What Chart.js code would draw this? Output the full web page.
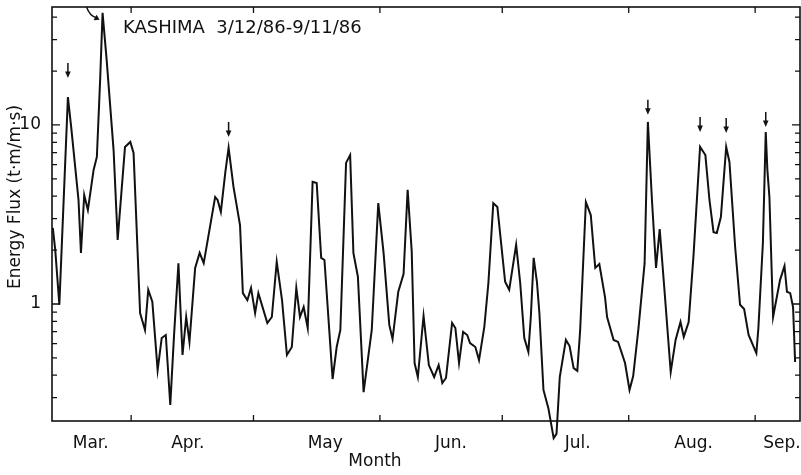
<!DOCTYPE html>
<html>
<head>
<meta charset="utf-8">
<title>KASHIMA energy flux</title>
<script src="https://cdn.jsdelivr.net/npm/chart.js@4.4.1/dist/chart.umd.min.js"></script>
<style>
  body { margin: 0; background: #fff; }
  #wrap { width: 801px; height: 475px; }
</style>
</head>
<body>
<div id="wrap"><canvas id="fluxChart" width="801" height="475"></canvas></div>
<script>
// days counted from 1 March 1986 (Mar 12 = 11, Sep 11 = 194)
const days = [
  11.8, 12.4, 13.4, 15.5, 16.3, 18.1, 18.7, 19.5, 20.4, 21.8,
  22.6, 23.4, 24.0, 25.0, 26.7, 27.7, 29.5, 30.8, 31.6, 33.2,
  34.4, 35.2, 36.2, 37.5, 38.5, 39.5, 40.6, 41.5, 42.6, 43.6,
  44.5, 45.3, 46.7, 47.8, 48.8, 51.6, 52.2, 53.0, 54.1, 54.9,
  56.1, 57.7, 58.4, 59.5, 60.4, 61.4, 62.2, 64.4, 65.5, 66.7,
  68.0, 69.2, 70.4, 71.5, 72.4, 73.3, 74.3, 75.5, 76.5, 77.6,
  78.4, 80.4, 81.4, 82.3, 83.7, 84.7, 85.5, 86.6, 88.0, 90.0,
  91.6, 92.9, 94.3, 95.1, 96.5, 97.8, 98.8, 99.8, 100.5, 101.3,
  102.7, 104.0, 105.3, 106.4, 107.3, 108.2, 109.7, 110.5, 111.4, 112.4,
  113.4, 114.1, 115.4, 116.3, 117.6, 118.6, 119.8, 120.8, 122.7, 123.7,
  125.4, 126.4, 127.4, 128.4, 129.0, 129.7, 130.5, 131.1, 132.1, 133.3,
  134.6, 135.3, 136.1, 137.6, 138.5, 139.5, 140.4, 141.1, 142.5, 143.7,
  144.8, 145.8, 147.2, 147.7, 149.3, 150.4, 152.1, 153.2, 154.1, 155.4,
  156.9, 157.7, 158.7, 159.7, 160.6, 161.8, 163.3, 164.5, 165.7, 166.5,
  167.7, 168.9, 170.5, 171.8, 172.8, 173.8, 174.6, 175.6, 176.9, 177.7,
  179.1, 180.3, 181.3, 182.4, 184.3, 184.8, 185.9, 186.6, 187.0, 187.5,
  188.4, 190.1, 191.2, 191.8, 192.6, 193.3, 193.8
];
const flux = [
  2.66, 2.00, 0.99, 14.3, 9.75, 3.81, 1.93, 4.06, 3.35, 5.61,
  6.63, 17.8, 42.3, 23.1, 7.24, 2.28, 7.54, 8.04, 6.98, 0.89,
  0.716, 1.20, 1.03, 0.427, 0.646, 0.671, 0.273, 0.655, 1.69, 0.519,
  0.846, 0.614, 1.59, 1.93, 1.69, 3.96, 3.81, 3.27, 5.46, 7.45,
  4.51, 2.76, 1.15, 1.05, 1.23, 0.89, 1.15, 0.783, 0.846, 1.72,
  1.05, 0.519, 0.575, 1.23, 0.846, 0.962, 0.734, 4.81, 4.74, 1.81,
  1.76, 0.381, 0.575, 0.716, 6.14, 6.79, 1.93, 1.42, 0.322, 0.716,
  3.66, 1.93, 0.764, 0.637, 1.17, 1.47, 4.34, 1.96, 0.468, 0.391,
  0.857, 0.456, 0.391, 0.456, 0.362, 0.386, 0.783, 0.734, 0.468, 0.698,
  0.671, 0.605, 0.575, 0.486, 0.745, 1.31, 3.66, 3.48, 1.33, 1.20,
  2.14, 1.31, 0.646, 0.540, 0.846, 1.81, 1.33, 0.89, 0.331, 0.262,
  0.178, 0.188, 0.391, 0.630, 0.582, 0.438, 0.423, 0.716, 3.71, 3.14,
  1.59, 1.67, 1.09, 0.846, 0.630, 0.614, 0.468, 0.331, 0.396, 0.734,
  1.69, 10.4, 3.81, 1.59, 2.62, 1.17, 0.417, 0.630, 0.793, 0.655,
  0.793, 1.88, 7.54, 6.79, 3.81, 2.52, 2.49, 3.06, 7.54, 6.21,
  2.08, 0.99, 0.938, 0.671, 0.532, 0.734, 2.19, 9.14, 5.61, 3.96,
  0.846, 1.36, 1.63, 1.17, 1.15, 0.962, 0.474
];

const monthNames = ['Mar.', 'Apr.', 'May', 'Jun.', 'Jul.', 'Aug.', 'Sep.'];
const monthLabelDays = [21.1, 44.9, 78.6, 109.4, 140.5, 168.9, 190.6];
const monthStartDays = [31, 61, 92, 122, 153, 184];

const yTickValues = [0.3, 0.4, 0.5, 0.6, 0.7, 0.8, 0.9, 1, 2, 3, 4, 5, 6, 7, 8, 9, 10, 20, 30, 40];
const yLabelled = [1, 10];

// peaks marked with a small arrow (day, flux at arrow tip)
const arrowDays = [15.5, 54.9, 157.7, 170.5, 176.9, 186.6];
const arrowTipFlux = [18.3, 8.57, 11.4, 9.14, 9.02, 9.75];
const bigPeakDay = 24.0;

const xMin = 11.6, xMax = 195.0;
const yMin = 0.222, yMax = 45.6;

const FONT = '"DejaVu Sans", sans-serif';
const INK = '#111';

function downArrow(c, x, tipY) {
    c.beginPath();
    c.moveTo(x, tipY - 15);
    c.lineTo(x, tipY - 4);
    c.stroke();
    c.beginPath();
    c.moveTo(x - 2.8, tipY - 6.5);
    c.lineTo(x + 2.8, tipY - 6.5);
    c.lineTo(x, tipY);
    c.closePath();
    c.fill();
}

const framePlugin = {
    id: 'frame',
    afterDraw(chart) {
        const c = chart.ctx;
        const a = chart.chartArea;
        const xs = chart.scales.x;
        const ys = chart.scales.y;
        c.save();
        c.strokeStyle = INK;
        c.fillStyle = INK;
        c.lineWidth = 1.6;
        c.strokeRect(a.left, a.top, a.right - a.left, a.bottom - a.top);

        // inward ticks, left and right
        c.lineWidth = 1.3;
        ys.ticks.forEach(t => {
            const py = ys.getPixelForValue(t.value);
            const len = yLabelled.includes(t.value) ? 8 : 5;
            c.beginPath();
            c.moveTo(a.left, py); c.lineTo(a.left + len, py);
            c.moveTo(a.right, py); c.lineTo(a.right - len, py);
            c.stroke();
        });
        // month boundaries, bottom and top
        monthStartDays.forEach(d => {
            const px = xs.getPixelForValue(d);
            c.beginPath();
            c.moveTo(px, a.bottom); c.lineTo(px, a.bottom - 6);
            c.moveTo(px, a.top); c.lineTo(px, a.top + 6);
            c.stroke();
        });

        // arrows over the peaks
        c.lineWidth = 1.5;
        arrowDays.forEach((d, i) => {
            downArrow(c, xs.getPixelForValue(d), ys.getPixelForValue(arrowTipFlux[i]));
        });
        // curved arrow pointing at the largest peak
        const bx = xs.getPixelForValue(bigPeakDay);
        const by = ys.getPixelForValue(flux[days.indexOf(bigPeakDay)]);
        c.beginPath();
        c.moveTo(bx - 16, a.top);
        c.quadraticCurveTo(bx - 13, by + 3, bx - 6, by + 5);
        c.stroke();
        c.beginPath();
        c.moveTo(bx - 3, by + 7);
        c.lineTo(bx - 9, by + 7.5);
        c.lineTo(bx - 6, by + 2);
        c.closePath();
        c.fill();

        // texts
        c.textBaseline = 'alphabetic';
        c.textAlign = 'left';
        c.font = '18px ' + FONT;
        c.fillText('KASHIMA  3/12/86-9/11/86', a.left + 71, a.top + 26);

        c.textAlign = 'center';
        c.textBaseline = 'middle';
        c.font = '17px ' + FONT;
        c.fillText('Month', 375, 462);

        c.translate(16, 197);
        c.rotate(-Math.PI / 2);
        c.fillText('Energy Flux (t\u00b7m/m\u00b7s)', 0, 0);
        c.restore();
    }
};

const ctx = document.getElementById('fluxChart').getContext('2d');
const chartInstance = new Chart(ctx, {
    type: 'line',
    data: {
        datasets: [{
            label: 'Energy Flux',
            data: days.map((d, i) => ({ x: d, y: flux[i] })),
            borderColor: INK,
            borderWidth: 2,
            pointRadius: 0,
            tension: 0,
            clip: false
        }]
    },
    options: {
        responsive: false,
        animation: false,
        layout: { padding: { top: 7, right: 1, left: 0, bottom: 0 } },
        plugins: { legend: { display: false }, tooltip: { enabled: false } },
        scales: {
            x: {
                type: 'linear',
                min: xMin,
                max: xMax,
                grid: { display: false },
                border: { display: false },
                afterBuildTicks: s => { s.ticks = monthLabelDays.map(v => ({ value: v })); },
                ticks: {
                    autoSkip: false,
                    maxRotation: 0,
                    padding: 4,
                    color: INK,
                    font: { family: FONT, size: 17 },
                    callback: (v, i) => monthNames[i]
                },
                afterFit: s => {
                    s.height = 54;
                    s.paddingLeft = 0;
                    s.paddingRight = 0;
                }
            },
            y: {
                type: 'logarithmic',
                min: yMin,
                max: yMax,
                grid: { display: false },
                border: { display: false },
                afterBuildTicks: s => { s.ticks = yTickValues.map(v => ({ value: v })); },
                ticks: {
                    autoSkip: false,
                    padding: 3,
                    color: INK,
                    font: { family: FONT, size: 17 },
                    callback: v => yLabelled.includes(v) ? String(v) : ''
                },
                afterFit: s => {
                    s.width = 52;
                    s.paddingTop = 0;
                    s.paddingBottom = 0;
                }
            }
        }
    },
    plugins: [framePlugin]
});
</script>
</body>
</html>
